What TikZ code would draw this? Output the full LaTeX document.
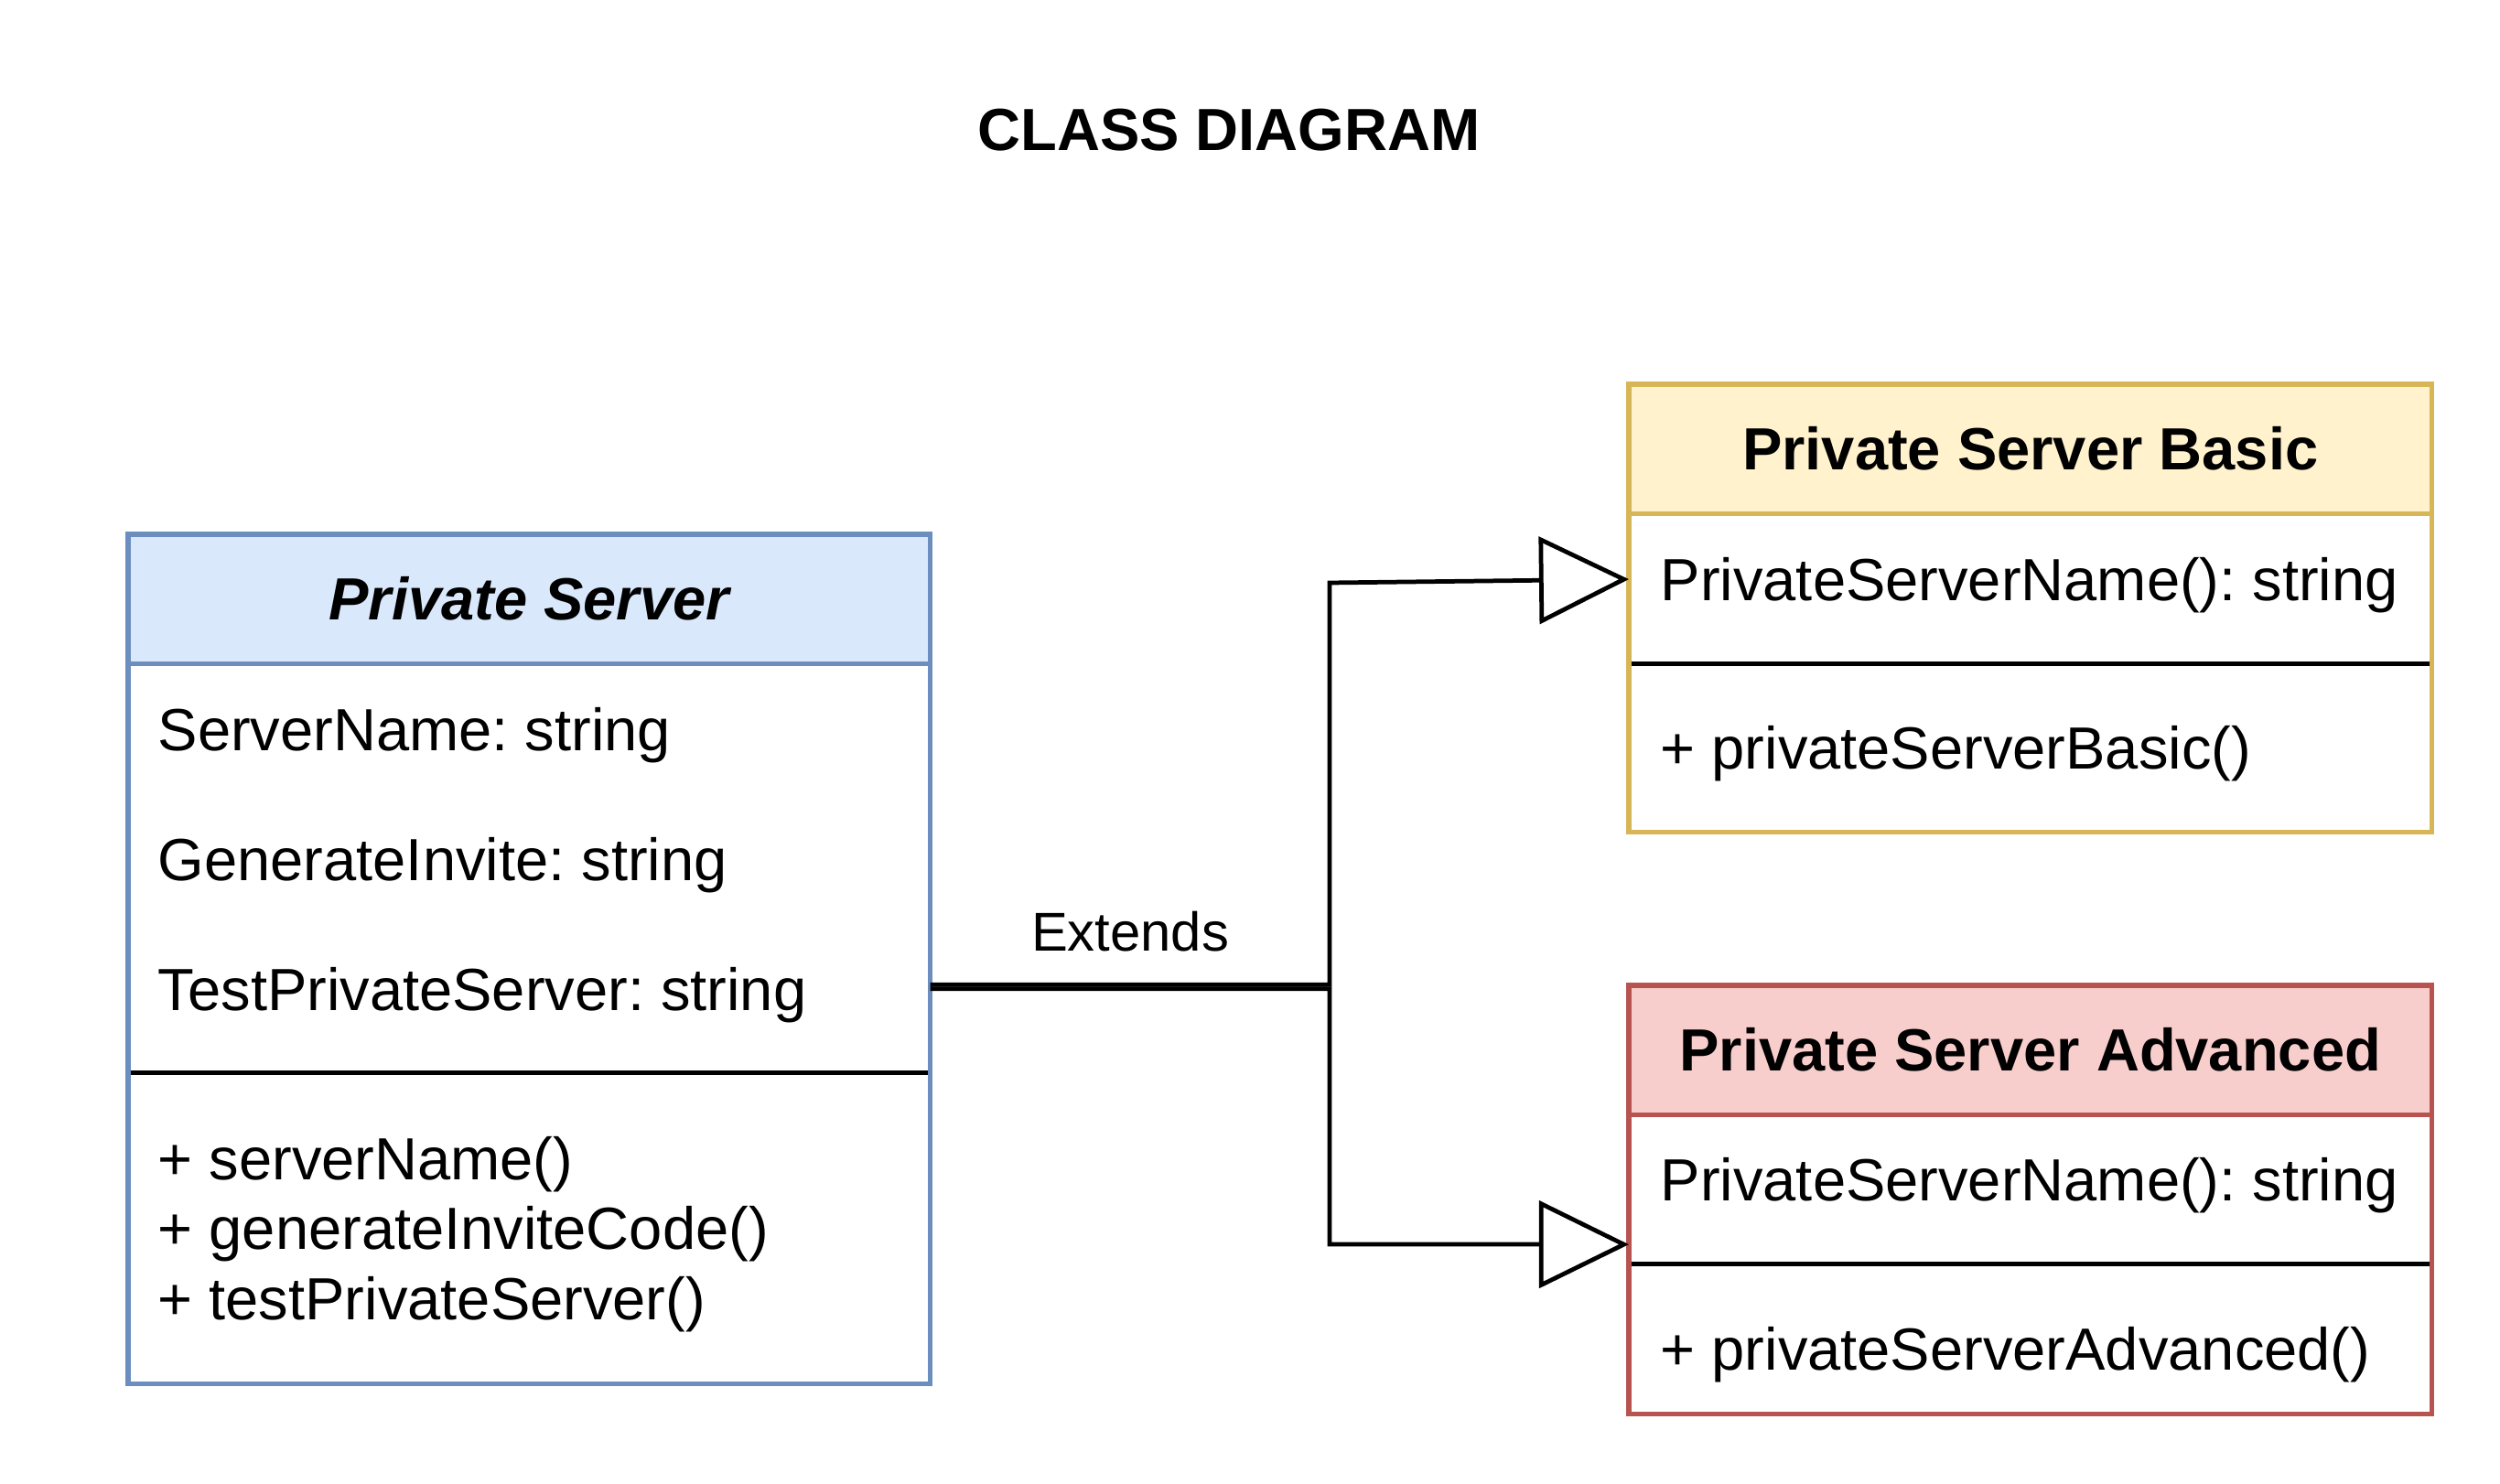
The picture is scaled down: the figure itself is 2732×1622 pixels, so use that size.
\documentclass[tikz,border=0pt]{standalone}
\usepackage{fontspec}
\setmainfont{Liberation Sans}
\usetikzlibrary{arrows.meta}

\definecolor{psFill}{HTML}{DAE8FC}
\definecolor{psLine}{HTML}{6C8EBF}
\definecolor{basicFill}{HTML}{FFF2CC}
\definecolor{basicLine}{HTML}{D6B656}
\definecolor{advFill}{HTML}{F8CECC}
\definecolor{advLine}{HTML}{B85450}

\tikzset{
    part/.style={draw,line width=1.45pt,minimum width=8.77cm,anchor=north west,inner sep=0pt,outer sep=0pt},
    head/.style={part,font=\bfseries,minimum height=1.41cm},
    member/.style={anchor=base west,inner sep=0pt},
    divider/.style={line width=1.45pt,black,shorten <=0.72pt,shorten >=0.72pt},
    extends/.style={line width=1.35pt,-{Triangle[open,length=0.98cm,width=0.95cm]}}
}

\begin{document}
\frenchspacing
\fontsize{18.5pt}{22pt}\selectfont
\begin{tikzpicture}[x=0.01cm,y=-0.01cm]
        \useasboundingbox[fill=white] (0,0) rectangle (2732,1622);
        %% Title
        \node[font=\bfseries,anchor=base] (title) at (1343,165) {CLASS DIAGRAM};
        %% Private Server
        \node[head,fill=psFill,draw=psLine,minimum width=8.76cm,font=\bfseries\itshape] (ps) at (140,584) {Private Server};
        \node[part,draw=psLine,minimum width=8.76cm,minimum height=4.47cm] (psattr) at (ps.south west) {};
        \node[part,draw=psLine,minimum width=8.76cm,minimum height=3.40cm] (psops) at (psattr.south west) {};
        \draw[divider] (psattr.south west) -- (psattr.south east);
        \node[member] (psname) at (172,821) {ServerName: string};
        \node[member] (psinvite) at (172,963) {GenerateInvite: string};
        \node[member] (pstest) at (172,1105) {TestPrivateServer: string};
        \node[member] (psopname) at (172,1290) {+ serverName()};
        \node[member] (psopinvite) at (172,1366) {+ generateInviteCode()};
        \node[member] (psoptest) at (172,1442) {+ testPrivateServer()};
        %% Private Server Basic
        \node[head,fill=basicFill,draw=basicLine] (basic) at (1780,420) {Private Server Basic};
        \node[part,draw=basicLine,minimum height=1.64cm] (basicattr) at (basic.south west) {};
        \node[part,draw=basicLine,minimum height=1.84cm] (basicops) at (basicattr.south west) {};
        \draw[divider] (basicattr.south west) -- (basicattr.south east);
        \node[member] (basicname) at (1814,657) {PrivateServerName(): string};
        \node[member] (basicop) at (1814,841) {+ privateServerBasic()};
        %% Private Server Advanced
        \node[head,fill=advFill,draw=advLine] (adv) at (1780,1077) {Private Server Advanced};
        \node[part,draw=advLine,minimum height=1.63cm] (advattr) at (adv.south west) {};
        \node[part,draw=advLine,minimum height=1.64cm] (advops) at (advattr.south west) {};
        \draw[divider] (advattr.south west) -- (advattr.south east);
        \node[member] (advname) at (1814,1313) {PrivateServerName(): string};
        \node[member] (advop) at (1814,1497) {+ privateServerAdvanced()};
        %% Arrows
        \draw[extends] ([yshift=-1.275cm]psattr.east) -| (1453,637) -- ([yshift=0.1cm]basicattr.west);
        \draw[extends] ([yshift=-1.32cm]psattr.east) -| (1453,1360) -- ([yshift=-0.605cm]advattr.west);
        \node[font=\fontsize{17pt}{20pt}\selectfont,anchor=base] (extlabel) at (1235,1040) {Extends};
\end{tikzpicture}
\end{document}
